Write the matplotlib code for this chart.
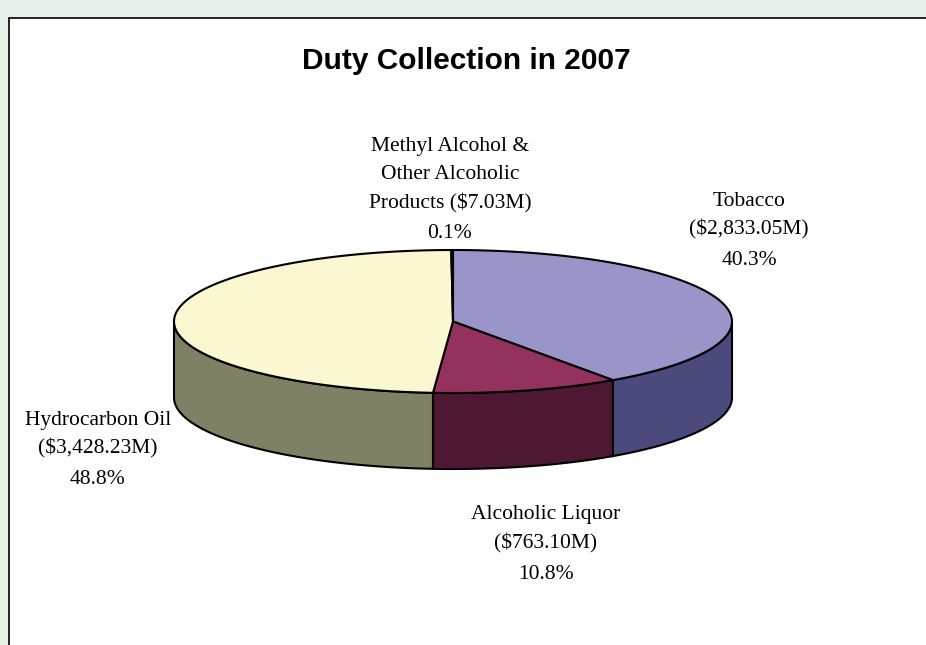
import matplotlib.pyplot as plt
import numpy as np
from matplotlib.patches import Polygon, Rectangle

# data
categories = ["Tobacco", "Alcoholic Liquor", "Hydrocarbon Oil",
              "Methyl Alcohol &\nOther Alcoholic\nProducts"]
values = [2833.05, 763.10, 3428.23, 7.03]   # $M
pct_labels = ["40.3%", "10.8%", "48.8%", "0.1%"]
top_colors = ["#9995C8", "#94325F", "#FAF7D1", "#D0E0F0"]
side_colors = ["#4B4A7D", "#4E1833", "#808064", "#6E7D8A"]

# pie geometry in pixel coords
cx, cy = 453, 321.5
ra, rb = 279, 71.5
depth = 76

# label layout (centre x, first-line y)
label_pos = [(749, 201), (546, 515), (98, 420), (450, 146)]
line_gap = 28.8


def pt(theta, dy=0.0):
    # theta in degrees, clockwise from 12 o'clock
    t = np.radians(theta)
    return cx + ra * np.sin(t), cy - rb * np.cos(t) + dy


def arc(t1, t2, dy=0.0, n=120):
    ts = np.linspace(t1, t2, n)
    xs, ys = pt(ts, dy)
    return np.column_stack([xs, ys])


def main():
    fig = plt.figure(figsize=(9.26, 6.45), dpi=100)
    fig.patch.set_facecolor("#E7F1E7")
    ax = fig.add_axes([0, 0, 1, 1])
    ax.set_xlim(0, 926)
    ax.set_ylim(645, 0)
    ax.axis("off")

    # white chart area
    ax.add_patch(Rectangle((9, 18), 940, 660, facecolor="white",
                           edgecolor="black", linewidth=1.2, zorder=0))

    total = sum(values)
    bounds = np.concatenate([[0], np.cumsum(values) / total * 360])

    # side walls (front half only: 90..270 deg)
    for i in range(len(values)):
        t1, t2 = max(bounds[i], 90), min(bounds[i + 1], 270)
        if t2 <= t1:
            continue
        top = arc(t1, t2)
        bot = arc(t2, t1, dy=depth)
        ax.add_patch(Polygon(np.vstack([top, bot]), closed=True,
                             facecolor=side_colors[i], edgecolor="black",
                             linewidth=1.5, zorder=2))

    # top wedges
    for i in range(len(values)):
        pts = np.vstack([[cx, cy], arc(bounds[i], bounds[i + 1])])
        ax.add_patch(Polygon(pts, closed=True, facecolor=top_colors[i],
                             edgecolor="black", linewidth=1.5, zorder=3,
                             joinstyle="round"))

    ax.text(466, 61, "Duty Collection in 2007", ha="center", va="center",
            fontsize=21.5, fontweight="bold", family="Liberation Sans")

    for i in range(len(values)):
        x, y = label_pos[i]
        if i == 3:
            lines = categories[i].split("\n")
            lines[-1] += f" (${values[i]:,.2f}M)"
        else:
            lines = [categories[i], f"(${values[i]:,.2f}M)"]
        for k, s in enumerate(lines):
            ax.text(x, y + k * line_gap, s, ha="center", va="center",
                    fontsize=15.5, family="Liberation Serif")
        ax.text(x, y + len(lines) * line_gap + 1.5, pct_labels[i],
                ha="center", va="center", fontsize=15.5,
                family="Liberation Serif")

    fig.savefig("out.png", dpi=100, facecolor=fig.get_facecolor())


if __name__ == "__main__":
    main()
